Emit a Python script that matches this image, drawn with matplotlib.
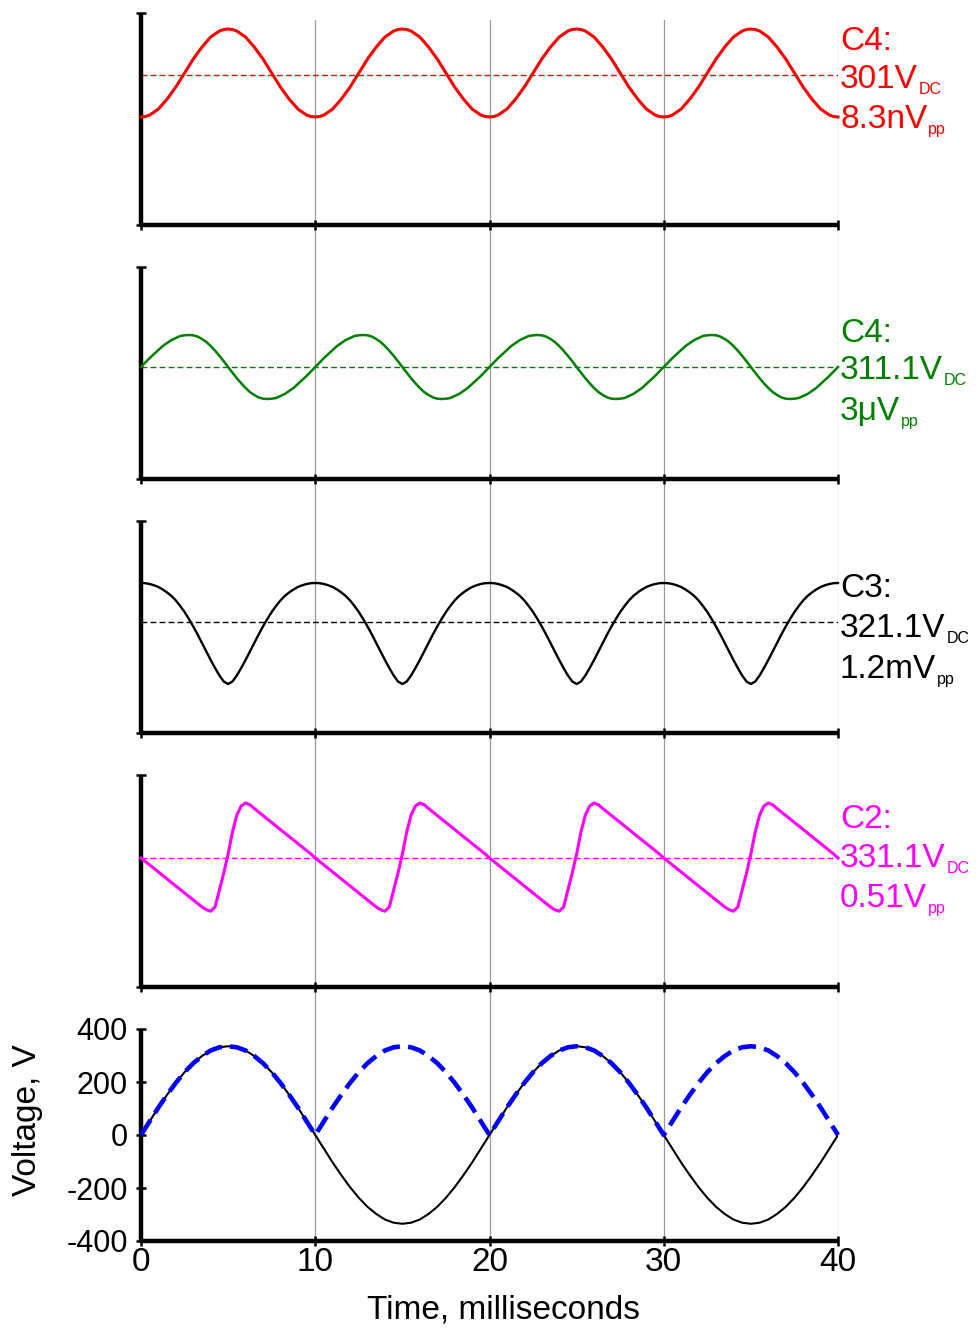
import numpy as np
import matplotlib
matplotlib.use('Agg')
import matplotlib.pyplot as plt

plt.rcParams['font.family'] = ['Liberation Sans', 'DejaVu Sans']

# ---- data ----
# time, ms: 0.25 ms steps for the four upper traces, 0.5 ms for the mains panel
t_fine = np.linspace(0, 40, 161)
t_ms = np.linspace(0, 40, 81)

# upper four traces have no scale: values are heights above the panel floor
# (0 = floor, 212 = top of the y axis), two lines per 10 ms period
red_trace = [108, 108.5, 110, 113, 116, 121, 126, 132, 138, 145, 152, 159, 166, 172, 178, 183, 188, 191, 194, 195.5,
             196, 195.5, 194, 191, 188, 183, 178, 172, 166, 159, 152, 145, 138, 132, 126, 121, 116, 113, 110, 108.5,
             108, 108.5, 110, 113, 116, 121, 126, 132, 138, 145, 152, 159, 166, 172, 178, 183, 188, 191, 194, 195.5,
             196, 195.5, 194, 191, 188, 183, 178, 172, 166, 159, 152, 145, 138, 132, 126, 121, 116, 113, 110, 108.5,
             108, 108.5, 110, 113, 116, 121, 126, 132, 138, 145, 152, 159, 166, 172, 178, 183, 188, 191, 194, 195.5,
             196, 195.5, 194, 191, 188, 183, 178, 172, 166, 159, 152, 145, 138, 132, 126, 121, 116, 113, 110, 108.5,
             108, 108.5, 110, 113, 116, 121, 126, 132, 138, 145, 152, 159, 166, 172, 178, 183, 188, 191, 194, 195.5,
             196, 195.5, 194, 191, 188, 183, 178, 172, 166, 159, 152, 145, 138, 132, 126, 121, 116, 113, 110, 108.5,
             108]
red_dc = 150

green_trace = [112, 116.5, 121, 125, 129, 133, 136, 139, 141, 143, 143.7, 144, 143.7, 142.4, 140, 137, 133, 128.3, 123.2, 117.7,
               112, 106.3, 100.8, 95.7, 91, 87, 84, 81.6, 80.3, 80, 80.3, 81, 83, 85, 88, 91, 95, 99, 103, 107.5,
               112, 116.5, 121, 125, 129, 133, 136, 139, 141, 143, 143.7, 144, 143.7, 142.4, 140, 137, 133, 128.3, 123.2, 117.7,
               112, 106.3, 100.8, 95.7, 91, 87, 84, 81.6, 80.3, 80, 80.3, 81, 83, 85, 88, 91, 95, 99, 103, 107.5,
               112, 116.5, 121, 125, 129, 133, 136, 139, 141, 143, 143.7, 144, 143.7, 142.4, 140, 137, 133, 128.3, 123.2, 117.7,
               112, 106.3, 100.8, 95.7, 91, 87, 84, 81.6, 80.3, 80, 80.3, 81, 83, 85, 88, 91, 95, 99, 103, 107.5,
               112, 116.5, 121, 125, 129, 133, 136, 139, 141, 143, 143.7, 144, 143.7, 142.4, 140, 137, 133, 128.3, 123.2, 117.7,
               112, 106.3, 100.8, 95.7, 91, 87, 84, 81.6, 80.3, 80, 80.3, 81, 83, 85, 88, 91, 95, 99, 103, 107.5,
               112]
green_dc = 112

black_trace = [150, 149.8, 149, 147.7, 146, 143.5, 140.5, 137, 132.5, 127, 121, 114, 106.5, 98.5, 90, 81.5, 73, 65, 57.5, 51.5,
               49, 51.5, 57.5, 65, 73, 81.5, 90, 98.5, 106.5, 114, 121, 127, 132.5, 137, 140.5, 143.5, 146, 147.7, 149, 149.8,
               150, 149.8, 149, 147.7, 146, 143.5, 140.5, 137, 132.5, 127, 121, 114, 106.5, 98.5, 90, 81.5, 73, 65, 57.5, 51.5,
               49, 51.5, 57.5, 65, 73, 81.5, 90, 98.5, 106.5, 114, 121, 127, 132.5, 137, 140.5, 143.5, 146, 147.7, 149, 149.8,
               150, 149.8, 149, 147.7, 146, 143.5, 140.5, 137, 132.5, 127, 121, 114, 106.5, 98.5, 90, 81.5, 73, 65, 57.5, 51.5,
               49, 51.5, 57.5, 65, 73, 81.5, 90, 98.5, 106.5, 114, 121, 127, 132.5, 137, 140.5, 143.5, 146, 147.7, 149, 149.8,
               150, 149.8, 149, 147.7, 146, 143.5, 140.5, 137, 132.5, 127, 121, 114, 106.5, 98.5, 90, 81.5, 73, 65, 57.5, 51.5,
               49, 51.5, 57.5, 65, 73, 81.5, 90, 98.5, 106.5, 114, 121, 127, 132.5, 137, 140.5, 143.5, 146, 147.7, 149, 149.8,
               150]
black_dc = 111

magenta_trace = [129, 125.5, 122, 118.5, 115, 111.5, 108, 104.5, 101, 97.5, 94, 90.5, 87, 83.5, 80, 77.3, 75.8, 80, 97, 114,
                 133, 155, 172, 181, 184, 182.3, 178.5, 175, 171.5, 168, 164.5, 161, 157.5, 154, 150.5, 147, 143.5, 140, 136.5, 133,
                 129, 125.5, 122, 118.5, 115, 111.5, 108, 104.5, 101, 97.5, 94, 90.5, 87, 83.5, 80, 77.3, 75.8, 80, 97, 114,
                 133, 155, 172, 181, 184, 182.3, 178.5, 175, 171.5, 168, 164.5, 161, 157.5, 154, 150.5, 147, 143.5, 140, 136.5, 133,
                 129, 125.5, 122, 118.5, 115, 111.5, 108, 104.5, 101, 97.5, 94, 90.5, 87, 83.5, 80, 77.3, 75.8, 80, 97, 114,
                 133, 155, 172, 181, 184, 182.3, 178.5, 175, 171.5, 168, 164.5, 161, 157.5, 154, 150.5, 147, 143.5, 140, 136.5, 133,
                 129, 125.5, 122, 118.5, 115, 111.5, 108, 104.5, 101, 97.5, 94, 90.5, 87, 83.5, 80, 77.3, 75.8, 80, 97, 114,
                 133, 155, 172, 181, 184, 182.3, 178.5, 175, 171.5, 168, 164.5, 161, 157.5, 154, 150.5, 147, 143.5, 140, 136.5, 133,
                 129]
magenta_dc = 129

# bottom panel, volts (mains sine and the rectified version)
mains_v = [0, 52, 104, 152, 197, 237, 271, 298, 319, 331, 335, 331, 319, 298, 271, 237, 197, 152, 104, 52,
           0, -52, -104, -152, -197, -237, -271, -298, -319, -331, -335, -331, -319, -298, -271, -237, -197, -152, -104, -52,
           0, 52, 104, 152, 197, 237, 271, 298, 319, 331, 335, 331, 319, 298, 271, 237, 197, 152, 104, 52,
           0, -52, -104, -152, -197, -237, -271, -298, -319, -331, -335, -331, -319, -298, -271, -237, -197, -152, -104, -52,
           0]
rectified_v = [0, 52, 104, 152, 197, 237, 271, 298, 319, 331, 335, 331, 319, 298, 271, 237, 197, 152, 104, 52,
               0, 52, 104, 152, 197, 237, 271, 298, 319, 331, 335, 331, 319, 298, 271, 237, 197, 152, 104, 52,
               0, 52, 104, 152, 197, 237, 271, 298, 319, 331, 335, 331, 319, 298, 271, 237, 197, 152, 104, 52,
               0, 52, 104, 152, 197, 237, 271, 298, 319, 331, 335, 331, 319, 298, 271, 237, 197, 152, 104, 52,
               0]

x_ticks = [0, 10, 20, 30, 40]
y_ticks = [-400, -200, 0, 200, 400]

channel_names = ['C4:', 'C4:', 'C3:', 'C2:']
dc_texts = ['301V', '311.1V', '321.1V', '331.1V']
pp_texts = ['8.3nV', '3\u03bcV', '1.2mV', '0.51V']

# ---- layout (pixels) ----
W, H = 976, 1329
fig = plt.figure(figsize=(W / 100, H / 100), dpi=100)
left_px, right_px = 141, 838
panel_h = 212
floors = [225, 479, 733, 987, 1241]


def frac_box(floor):
    return [left_px / W, 1 - floor / H, (right_px - left_px) / W, panel_h / H]


# gray time grid running through all panels
bg = fig.add_axes([left_px / W, 1 - 1241 / H, (right_px - left_px) / W, (1241 - 20) / H], zorder=0)
bg.set_xlim(0, 40)
bg.set_ylim(0, 1)
bg.patch.set_alpha(0)
bg.axis('off')
for xv in x_ticks[1:]:
    bg.axvline(xv, color='#9a9a9a', lw=0.9)


def style_axes(ax):
    ax.patch.set_alpha(0)
    for s in ['top', 'right']:
        ax.spines[s].set_visible(False)
    for s in ['left', 'bottom']:
        ax.spines[s].set_linewidth(3.2)
        ax.spines[s].set_capstyle('butt')
    ax.set_xlim(0, 40)
    ax.set_xticks(x_ticks)
    ax.tick_params(direction='inout', length=7, width=1.8, color='black')


traces = [(red_trace, red_dc, '#ff0000', 2.2),
          (green_trace, green_dc, '#008000', 1.8),
          (black_trace, black_dc, '#000000', 1.7),
          (magenta_trace, magenta_dc, '#ff00ff', 2.2)]

for i, (vals, dc, col, lw) in enumerate(traces):
    ax = fig.add_axes(frac_box(floors[i]), zorder=1)
    style_axes(ax)
    ax.set_ylim(0, panel_h)
    ax.set_yticks([0, panel_h])
    ax.set_xticklabels([])
    ax.set_yticklabels([])
    ax.plot(t_fine, vals, color=col, lw=lw, clip_on=False, zorder=3)
    ax.plot([0, 40], [dc, dc], color=col, lw=1.0, dashes=(4.2, 2.3), zorder=2)

# bottom panel with real voltage axis
ax = fig.add_axes(frac_box(floors[4]), zorder=1)
style_axes(ax)
ax.set_ylim(-400, 400)
ax.set_yticks(y_ticks)
ax.set_yticklabels([str(v) for v in y_ticks], fontsize=22)
ax.set_xticklabels([str(v) for v in x_ticks], fontsize=24)
ax.tick_params(axis='y', pad=6)
ax.tick_params(axis='x', pad=1)
ax.plot(t_ms, mains_v, color='black', lw=1.5, zorder=3)
ax.plot(t_ms, rectified_v, color='#0000ff', lw=3.3, dashes=(3.9, 1.8),
        dash_capstyle='butt', zorder=4, clip_on=False)

fig.text(28 / W, 1 - 1120 / H, 'Voltage, V', rotation=90, fontsize=24, ha='center', va='center')
fig.text(503 / W, 1 - 1310 / H, 'Time, milliseconds', fontsize=24, ha='center', va='center')

# channel readouts at the right edge, with small subscripts
renderer = fig.canvas.get_renderer()
text_cols = ['#ff0000', '#008000', '#000000', '#ff00ff']
baselines = [(50, 88, 128), (342, 379, 420), (597, 637, 678), (828, 867, 907)]


def readout(y_base, main, sub, col):
    txt = fig.text(840 / W, 1 - y_base / H, main, fontsize=24, color=col, va='baseline', ha='left')
    if sub:
        bb = txt.get_window_extent(renderer)
        fig.text((bb.x1 + 1) / W, 1 - (y_base + 6) / H, sub, fontsize=11.5, color=col,
                 va='baseline', ha='left')


for i in range(4):
    b1, b2, b3 = baselines[i]
    readout(b1, channel_names[i], None, text_cols[i])
    readout(b2, dc_texts[i], 'DC', text_cols[i])
    readout(b3, pp_texts[i], 'pp', text_cols[i])

fig.savefig('out.png', dpi=100)
